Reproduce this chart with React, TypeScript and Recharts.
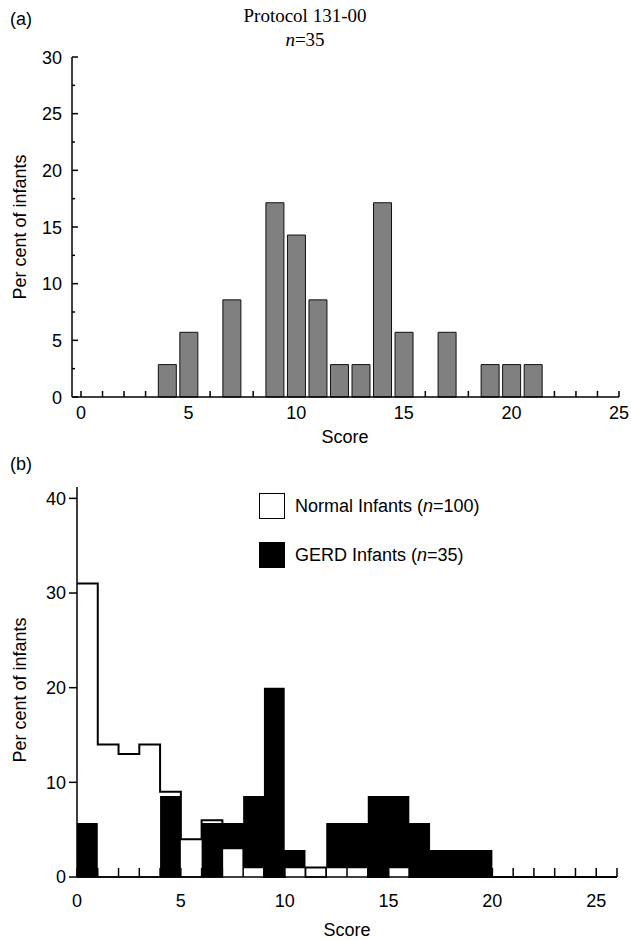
import React from 'react';
import { BarChart, Bar, ComposedChart, Area, XAxis, YAxis, Legend } from 'recharts';

const SANS = '"Liberation Sans", Arial, sans-serif';
const SERIF = '"Liberation Serif", "Times New Roman", serif';

// panel (a): Protocol 131-00, n=35
const scoresA = [4, 5, 7, 9, 10, 11, 12, 13, 14, 15, 17, 19, 20, 21];
const percentA = [2.86, 5.71, 8.57, 17.14, 14.29, 8.57, 2.86, 2.86, 17.14, 5.71, 5.71, 2.86, 2.86, 2.86];
const xTicksA = [0, 1, 2, 3, 4, 5, 6, 7, 8, 9, 10, 11, 12, 13, 14, 15, 16, 17, 18, 19, 20, 21, 22, 23, 24, 25];
const yTicksA = [0, 2.5, 5, 7.5, 10, 12.5, 15, 17.5, 20, 22.5, 25, 27.5, 30];

// panel (b): histogram, bins start at each score
const binsB = [0, 1, 2, 3, 4, 5, 6, 7, 8, 9, 10, 11, 12, 13, 14, 15, 16, 17, 18, 19, 20, 21, 22, 23, 24, 25, 26];
const normalB = [31, 14, 13, 14, 9, 4, 6, 3, 1, 0, 1, 1, 1, 1, 0, 1, 0, 0, 0, 0, 0, 0, 0, 0, 0, 0, 0];
const gerdB = [5.71, 0, 0, 0, 8.57, 0, 5.71, 5.71, 8.57, 20, 2.86, 0, 5.71, 5.71, 8.57, 8.57, 5.71, 2.86, 2.86, 2.86, 0, 0, 0, 0, 0, 0, 0];
const xTicksB = [0, 1, 2, 3, 4, 5, 6, 7, 8, 9, 10, 11, 12, 13, 14, 15, 16, 17, 18, 19, 20, 21, 22, 23, 24, 25, 26];
const yTicksB = [0, 10, 20, 30, 40];
const seriesB = [
  { key: 'normal', name: 'Normal Infants (n=100)', fill: '#fff' },
  { key: 'gerd', name: 'GERD Infants (n=35)', fill: '#000' },
];

const dataA = scoresA.map((score, i) => ({ score, percent: percentA[i] }));
// the shorter of the two bars sits in front, as in the original plot
const dataB = binsB.map((score, i) => ({
  score,
  normal: normalB[i],
  gerd: gerdB[i],
  normalFront: normalB[i] < gerdB[i] ? normalB[i] : 0,
}));

const A_AXIS_X = 72;
const A_AXIS_Y = 397;
const B_AXIS_Y = 437; // inside the lower chart's own svg

const textStyle = { fontFamily: SANS, fontSize: 18, fill: '#000' };

function TopXTick(props: any) {
  const { x, payload } = props;
  const v = payload.value;
  const hidden = scoresA.includes(v);
  return (
    <g>
      {!hidden && <line x1={x} x2={x} y1={A_AXIS_Y} y2={A_AXIS_Y - 6} stroke="#000" strokeWidth={1.5} />}
      {v % 5 === 0 && (
        <text x={x} y={A_AXIS_Y + 22} textAnchor="middle" style={textStyle}>
          {v}
        </text>
      )}
    </g>
  );
}

function TopYTick(props: any) {
  const { y, payload } = props;
  const v = payload.value;
  const major = v % 5 === 0;
  return (
    <g>
      <line x1={A_AXIS_X} x2={A_AXIS_X + (major ? 6 : 3)} y1={y} y2={y} stroke="#000" strokeWidth={1.5} />
      {major && (
        <text x={A_AXIS_X - 10} y={y + 6.5} textAnchor="end" style={textStyle}>
          {v}
        </text>
      )}
    </g>
  );
}

function BottomXTick(props: any) {
  const { x, payload } = props;
  const v = payload.value;
  return (
    <g>
      <line x1={x} x2={x} y1={B_AXIS_Y} y2={B_AXIS_Y - 9} stroke="#000" strokeWidth={1.5} />
      {v % 5 === 0 && (
        <text x={x} y={B_AXIS_Y + 29.5} textAnchor="middle" style={textStyle}>
          {v}
        </text>
      )}
    </g>
  );
}

function withItalicN(label: string) {
  const parts = label.split('(n=');
  if (parts.length < 2) return label;
  return (
    <>
      {parts[0]}(<i>n</i>={parts[1]}
    </>
  );
}

function LegendBox() {
  return (
    <div>
      {seriesB.map((s) => (
        <div key={s.key} style={{ display: 'flex', alignItems: 'center', height: 26, marginBottom: 23 }}>
          <span
            style={{
              display: 'inline-block',
              width: 26,
              height: 26,
              boxSizing: 'border-box',
              border: '1.5px solid #000',
              background: s.fill,
            }}
          />
          <span style={{ marginLeft: 10, fontFamily: SANS, fontSize: 18, color: '#000', whiteSpace: 'nowrap' }}>
            {withItalicN(s.name)}
          </span>
        </div>
      ))}
    </div>
  );
}

export default function App() {
  return (
    <div style={{ position: 'absolute', left: 0, top: 0, width: 631, height: 940, background: '#fff' }}>
      <div style={{ position: 'absolute', left: 0, top: 0 }}>
        <BarChart width={631} height={440} data={dataA} margin={{ top: 57, right: 12, bottom: 3, left: 0 }}>
          <XAxis
            dataKey="score"
            type="number"
            domain={[0, 25]}
            ticks={xTicksA}
            padding={{ left: 9, right: 0 }}
            height={40}
            tickSize={0}
            tick={TopXTick}
            axisLine={{ stroke: '#000', strokeWidth: 1.5 }}
            interval={0}
          />
          <YAxis
            type="number"
            domain={[0, 30]}
            ticks={yTicksA}
            width={72}
            tickSize={0}
            tick={TopYTick}
            axisLine={{ stroke: '#000', strokeWidth: 1.5 }}
            interval={0}
          />
          <Bar dataKey="percent" barSize={18} fill="#808080" stroke="#111" strokeWidth={1} isAnimationActive={false} />
        </BarChart>
      </div>

      <div style={{ position: 'absolute', left: 0, top: 440 }}>
        <ComposedChart width={631} height={500} data={dataB} margin={{ top: 47, right: 14, bottom: 23, left: 0 }}>
          <Area
            dataKey="normal"
            name={seriesB[0].name}
            type="stepAfter"
            stroke="#000"
            strokeWidth={2}
            fill="#fff"
            fillOpacity={1}
            legendType="square"
            isAnimationActive={false}
          />
          <Area
            dataKey="gerd"
            name={seriesB[1].name}
            type="stepAfter"
            stroke="none"
            fill="#000"
            fillOpacity={1}
            legendType="square"
            isAnimationActive={false}
          />
          <Area
            dataKey="normalFront"
            type="stepAfter"
            stroke="#000"
            strokeWidth={1.5}
            fill="#fff"
            fillOpacity={1}
            legendType="none"
            isAnimationActive={false}
          />
          <XAxis
            dataKey="score"
            type="number"
            domain={[0, 26]}
            ticks={xTicksB}
            height={40}
            tickSize={0}
            tick={BottomXTick}
            axisLine={{ stroke: '#000', strokeWidth: 1.5 }}
            interval={0}
          />
          <YAxis
            type="number"
            domain={[0, 41.2]}
            ticks={yTicksB}
            width={77}
            tickSize={8}
            tickMargin={3}
            tickLine={{ stroke: '#000', strokeWidth: 1.5 }}
            tick={{ ...textStyle }}
            axisLine={{ stroke: '#000', strokeWidth: 1.5 }}
            interval={0}
          />
          <Legend
            layout="vertical"
            align="center"
            verticalAlign="middle"
            content={() => <LegendBox />}
            wrapperStyle={{ left: 259, top: 53, width: 'auto', height: 'auto' }}
          />
        </ComposedChart>
      </div>

      <svg width={631} height={940} style={{ position: 'absolute', left: 0, top: 0, pointerEvents: 'none' }}>
        <text x={10} y={25} style={textStyle}>(a)</text>
        <text x={305} y={22} textAnchor="middle" style={{ fontFamily: SERIF, fontSize: 19, fill: '#000' }}>
          Protocol 131-00
        </text>
        <text x={305} y={46} textAnchor="middle" style={{ fontFamily: SERIF, fontSize: 19, fill: '#000' }}>
          <tspan fontStyle="italic">n</tspan>=35
        </text>
        <text transform="translate(26,227) rotate(-90)" textAnchor="middle" style={textStyle}>
          Per cent of infants
        </text>
        <text x={345} y={443} textAnchor="middle" style={textStyle}>Score</text>
        <text x={10} y={470} style={textStyle}>(b)</text>
        <text transform="translate(26,690) rotate(-90)" textAnchor="middle" style={textStyle}>
          Per cent of infants
        </text>
        <text x={347} y={936} textAnchor="middle" style={textStyle}>Score</text>
      </svg>
    </div>
  );
}
